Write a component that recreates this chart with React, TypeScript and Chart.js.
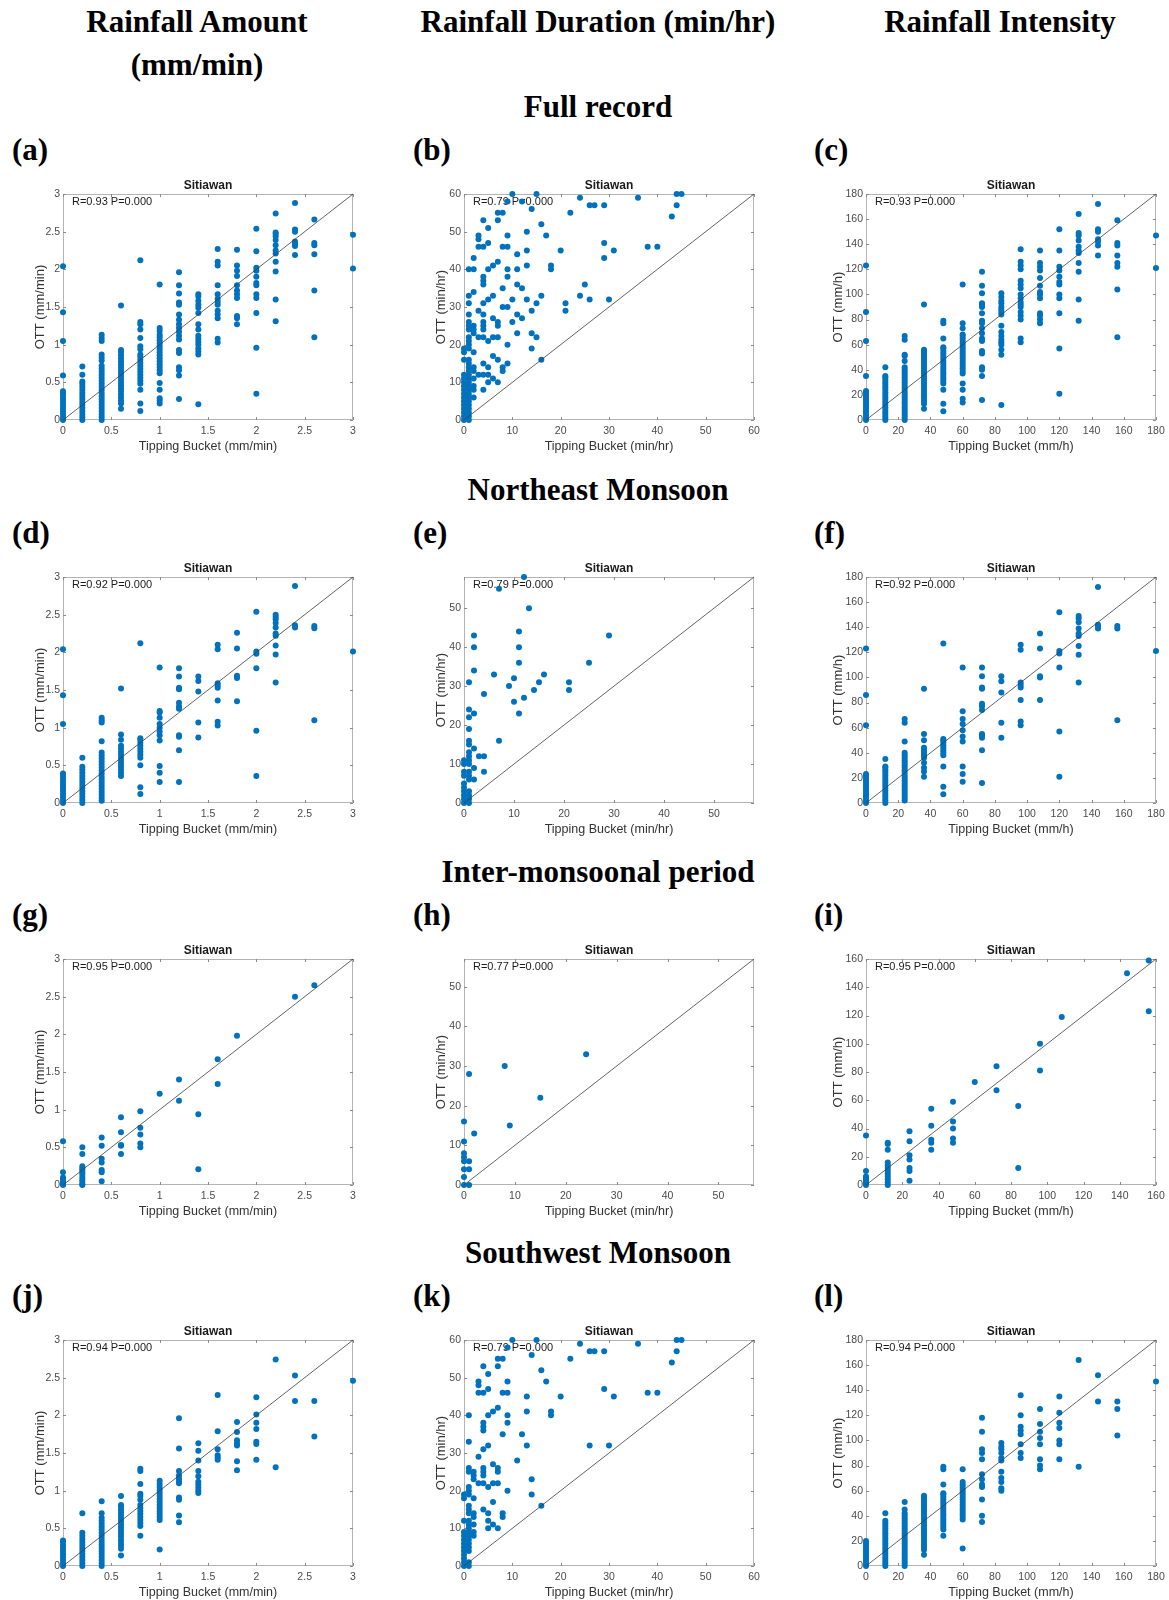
import React, { useEffect, useRef } from 'react';
import { Chart, registerables } from 'chart.js';

Chart.register(...registerables);

// Each column: [Tipping Bucket value, list of OTT values observed at it]
type Column = [number, number[]];

// ---------- Rainfall amount (mm/min) ----------
const amountFull: Column[] = [
  [0, [0, 0.04, 0.08, 0.12, 0.16, 0.2, 0.24, 0.28, 0.32, 0.36, 0.38, 0.59, 1.05, 1.43, 2.04]],
  [0.2, [0, 0.04, 0.08, 0.12, 0.16, 0.2, 0.24, 0.28, 0.32, 0.36, 0.4, 0.44, 0.48, 0.51, 0.6, 0.71]],
  [0.4, [0, 0.04, 0.08, 0.12, 0.16, 0.2, 0.24, 0.28, 0.32, 0.36, 0.4, 0.44, 0.48, 0.52, 0.56, 0.6, 0.64, 0.68, 0.72, 0.79, 0.83, 0.87, 1.05, 1.09, 1.13]],
  [0.6, [0.15, 0.22, 0.26, 0.3, 0.34, 0.38, 0.42, 0.46, 0.5, 0.54, 0.58, 0.62, 0.66, 0.7, 0.74, 0.78, 0.82, 0.86, 0.9, 0.93, 1.52]],
  [0.8, [0.12, 0.22, 0.4, 0.48, 0.52, 0.56, 0.6, 0.64, 0.68, 0.72, 0.76, 0.8, 0.84, 0.87, 0.94, 0.98, 1.09, 1.2, 1.27, 1.3, 2.12]],
  [1, [0.22, 0.26, 0.29, 0.4, 0.49, 0.62, 0.66, 0.7, 0.74, 0.78, 0.82, 0.86, 0.9, 0.94, 0.98, 1.02, 1.06, 1.1, 1.13, 1.18, 1.22, 1.8]],
  [1.2, [0.28, 0.59, 0.66, 0.7, 0.89, 0.93, 1.07, 1.12, 1.17, 1.22, 1.27, 1.33, 1.4, 1.53, 1.56, 1.68, 1.79, 1.96]],
  [1.4, [0.21, 0.87, 0.91, 0.95, 1, 1.04, 1.08, 1.12, 1.2, 1.27, 1.42, 1.49, 1.53, 1.58, 1.64, 1.67]],
  [1.6, [1.03, 1.08, 1.35, 1.4, 1.45, 1.53, 1.57, 1.61, 1.67, 1.79, 2.05, 2.1, 2.27]],
  [1.8, [1.27, 1.35, 1.38, 1.62, 1.67, 1.72, 1.79, 1.91, 1.98, 2.05, 2.26]],
  [2, [0.35, 0.96, 1.42, 1.62, 1.67, 1.79, 1.82, 1.9, 1.98, 2.02, 2.24, 2.54]],
  [2.2, [1.31, 1.6, 1.97, 2.1, 2.21, 2.25, 2.32, 2.39, 2.44, 2.47, 2.49, 2.74]],
  [2.4, [2.19, 2.31, 2.34, 2.37, 2.5, 2.53, 2.88]],
  [2.6, [1.1, 1.72, 2.2, 2.32, 2.35, 2.66]],
  [3, [2.01, 2.46]],
];

const amountNE: Column[] = [
  [0, [0, 0.04, 0.08, 0.12, 0.16, 0.2, 0.24, 0.28, 0.32, 0.36, 0.39, 1.05, 1.43, 2.04]],
  [0.2, [0, 0.04, 0.08, 0.12, 0.16, 0.2, 0.24, 0.28, 0.32, 0.36, 0.4, 0.44, 0.48, 0.6]],
  [0.4, [0.03, 0.07, 0.11, 0.15, 0.19, 0.23, 0.27, 0.31, 0.35, 0.39, 0.43, 0.47, 0.51, 0.55, 0.59, 0.63, 0.67, 0.82, 1.07, 1.1, 1.13]],
  [0.6, [0.36, 0.4, 0.44, 0.48, 0.52, 0.56, 0.6, 0.64, 0.68, 0.72, 0.76, 0.84, 0.91, 1.52]],
  [0.8, [0.12, 0.21, 0.5, 0.6, 0.64, 0.68, 0.72, 0.76, 0.8, 0.84, 0.86, 2.12]],
  [1, [0.28, 0.4, 0.49, 0.83, 0.9, 0.95, 1, 1.05, 1.13, 1.2, 1.22, 1.8]],
  [1.2, [0.28, 0.7, 0.88, 0.9, 1.25, 1.28, 1.33, 1.51, 1.53, 1.68, 1.79]],
  [1.4, [0.87, 1.07, 1.48, 1.62, 1.68]],
  [1.6, [1.03, 1.08, 1.36, 1.53, 1.56, 1.59, 2.04, 2.1]],
  [1.8, [1.35, 1.66, 1.69, 2.05, 2.26]],
  [2, [0.36, 0.96, 1.79, 1.98, 2.01, 2.54]],
  [2.2, [1.6, 1.97, 2.09, 2.22, 2.25, 2.33, 2.39, 2.44, 2.47, 2.5]],
  [2.4, [2.33, 2.36, 2.88]],
  [2.6, [1.1, 2.32, 2.35]],
  [3, [2.01]],
];

const amountInter: Column[] = [
  [0, [0, 0.01, 0.03, 0.05, 0.08, 0.1, 0.17, 0.58]],
  [0.2, [0, 0.01, 0.04, 0.07, 0.1, 0.14, 0.17, 0.2, 0.22, 0.25, 0.41, 0.5]],
  [0.4, [0.05, 0.17, 0.2, 0.3, 0.35, 0.52, 0.63]],
  [0.6, [0.41, 0.52, 0.53, 0.7, 0.9]],
  [0.8, [0.5, 0.55, 0.67, 0.76, 0.98]],
  [1, [1.21]],
  [1.2, [1.12, 1.4]],
  [1.4, [0.21, 0.94]],
  [1.6, [1.34, 1.67]],
  [1.8, [1.98]],
  [2.4, [2.5]],
  [2.6, [2.65]],
];

const amountSW: Column[] = [
  [0, [0, 0.04, 0.08, 0.12, 0.16, 0.2, 0.24, 0.28, 0.32, 0.34]],
  [0.2, [0, 0.04, 0.08, 0.12, 0.16, 0.2, 0.24, 0.28, 0.32, 0.36, 0.4, 0.44, 0.7]],
  [0.4, [0, 0.04, 0.08, 0.12, 0.16, 0.2, 0.24, 0.28, 0.32, 0.36, 0.4, 0.44, 0.48, 0.52, 0.56, 0.6, 0.64, 0.7, 0.86]],
  [0.6, [0.14, 0.23, 0.27, 0.31, 0.35, 0.39, 0.43, 0.47, 0.51, 0.55, 0.59, 0.63, 0.67, 0.71, 0.75, 0.79, 0.81, 0.93]],
  [0.8, [0.4, 0.53, 0.57, 0.61, 0.65, 0.69, 0.73, 0.77, 0.81, 0.88, 0.93, 0.96, 1.09, 1.26, 1.29]],
  [1, [0.22, 0.61, 0.65, 0.69, 0.73, 0.77, 0.81, 0.85, 0.89, 0.93, 0.97, 1.01, 1.05, 1.09, 1.13]],
  [1.2, [0.58, 0.67, 0.88, 0.91, 1.1, 1.13, 1.16, 1.2, 1.26, 1.56, 1.96]],
  [1.4, [0.97, 1, 1.04, 1.08, 1.12, 1.19, 1.26, 1.4, 1.53, 1.63]],
  [1.6, [1.41, 1.44, 1.47, 1.55, 1.79, 2.27]],
  [1.8, [1.27, 1.39, 1.6, 1.63, 1.67, 1.78, 1.91]],
  [2, [1.41, 1.62, 1.65, 1.82, 1.9, 2.01, 2.24]],
  [2.2, [1.31, 2.74]],
  [2.4, [2.19, 2.53]],
  [2.6, [1.72, 2.19]],
  [3, [2.46]],
];

// ---------- Rainfall duration (min/hr) ----------
const durationFull: Column[] = [
  [0, [0, 1, 2, 3, 4, 5, 6, 7, 8, 9, 10, 11, 12, 16, 18, 19]],
  [1, [0, 1, 2, 3, 4, 5, 6, 7, 8, 9, 10, 11, 12, 13, 14, 15, 16, 19, 20, 21, 22, 24, 25, 26, 28, 31, 33, 40]],
  [2, [6, 8, 9, 11, 13, 14, 18, 23, 24, 25, 34, 40, 43]],
  [3, [12, 22, 29, 46, 48, 49]],
  [4, [8, 12, 15, 22, 24, 25, 26, 28, 31, 36, 37, 38, 46, 53]],
  [5, [10, 12, 14, 21, 32, 40, 47, 51]],
  [6, [11, 17, 22, 27, 33, 41]],
  [7, [10, 16, 22, 25, 26, 42, 53, 55]],
  [8, [13, 14, 30, 35, 46, 55]],
  [9, [15, 20, 30, 38, 40, 46, 49, 58]],
  [10, [26, 32, 60]],
  [11, [23, 28, 36, 40, 44]],
  [12, [27, 35, 58]],
  [13, [32, 41, 45, 50]],
  [14, [19, 23, 29, 56]],
  [15, [22, 31, 60]],
  [16, [16, 33, 52]],
  [17, [49]],
  [18, [40, 41]],
  [20, [45]],
  [21, [29, 31]],
  [22, [55]],
  [24, [33, 59]],
  [25, [36]],
  [26, [32, 57]],
  [27, [57]],
  [29, [43, 47, 57]],
  [30, [32]],
  [31, [45]],
  [36, [59]],
  [38, [46]],
  [40, [46]],
  [43, [54]],
  [44, [57, 60]],
  [45, [60]],
];

const durationNE: Column[] = [
  [0, [0, 1, 2, 3, 4, 5, 7, 8, 10, 11]],
  [1, [0, 1, 2, 3, 6, 7, 8, 10, 11, 12, 13, 15, 16, 19, 22, 24, 31]],
  [2, [6, 9, 14, 23, 34, 40, 43]],
  [3, [12]],
  [4, [8, 12, 28]],
  [6, [33]],
  [7, [16, 55]],
  [9, [30]],
  [10, [26, 32]],
  [11, [23, 36, 40, 44]],
  [12, [27, 58]],
  [13, [50]],
  [14, [29]],
  [15, [31]],
  [16, [33]],
  [21, [29, 31]],
  [25, [36]],
  [29, [43]],
];

const durationInter: Column[] = [
  [0, [0, 2, 4, 6, 7, 8, 11, 16]],
  [1, [0, 4, 6, 28]],
  [2, [13]],
  [8, [30]],
  [9, [15]],
  [15, [22]],
  [24, [33]],
];

const durationSW: Column[] = [
  [0, [0, 1, 2, 3, 4, 5, 6, 7, 8, 9, 12, 18, 19]],
  [1, [0, 1, 4, 5, 6, 7, 8, 9, 10, 11, 12, 14, 15, 16, 19, 20, 21, 25, 26, 33, 40]],
  [2, [8, 9, 11, 13, 14, 18, 23, 24, 25]],
  [3, [22, 29, 46, 48, 49]],
  [4, [15, 22, 24, 25, 26, 31, 36, 37, 38, 46, 53]],
  [5, [10, 12, 14, 21, 32, 40, 47, 51]],
  [6, [11, 17, 22, 27, 41]],
  [7, [10, 22, 25, 26, 42, 53, 55]],
  [8, [13, 14, 35, 46, 55]],
  [9, [20, 38, 40, 46, 49, 58]],
  [10, [60]],
  [11, [28]],
  [12, [35]],
  [13, [32, 41, 45]],
  [14, [19, 23, 56]],
  [15, [60]],
  [16, [16, 52]],
  [17, [49]],
  [18, [40, 41]],
  [20, [45]],
  [22, [55]],
  [24, [59]],
  [26, [32, 57]],
  [27, [57]],
  [29, [47, 57]],
  [30, [32]],
  [31, [45]],
  [36, [59]],
  [38, [46]],
  [40, [46]],
  [43, [54]],
  [44, [57, 60]],
  [45, [60]],
];

// ---------- Rainfall intensity (mm/h) ----------
const intensityFull: Column[] = [
  [0, [0, 2, 4, 6, 8, 10, 12, 14, 16, 18, 20, 22, 23, 35, 63, 86, 123]],
  [12, [0, 2, 4, 6, 8, 10, 12, 14, 16, 18, 20, 22, 24, 26, 28, 30, 32, 34, 35, 42]],
  [24, [0, 2, 4, 6, 8, 10, 12, 14, 16, 18, 20, 22, 24, 26, 28, 30, 32, 34, 36, 38, 40, 42, 47, 51, 52, 64, 67]],
  [36, [9, 13, 15, 17, 19, 21, 23, 25, 27, 29, 31, 33, 35, 37, 39, 41, 43, 45, 47, 49, 51, 53, 55, 56, 92]],
  [48, [7, 13, 24, 29, 31, 33, 35, 37, 39, 41, 43, 45, 47, 49, 51, 53, 55, 57, 58, 65, 77, 79]],
  [60, [14, 17, 24, 29, 37, 39, 41, 43, 45, 47, 49, 51, 53, 55, 57, 59, 61, 63, 65, 67, 68, 73, 77, 108]],
  [72, [16, 35, 40, 42, 53, 55, 63, 65, 69, 73, 77, 79, 85, 90, 92, 93, 101, 107, 118]],
  [84, [12, 52, 56, 60, 62, 64, 67, 70, 75, 84, 86, 88, 90, 93, 95, 98, 101]],
  [96, [62, 65, 80, 83, 86, 90, 92, 94, 97, 100, 105, 108, 111, 120, 123, 126, 136]],
  [108, [77, 80, 83, 85, 97, 100, 102, 107, 113, 119, 122, 125, 135]],
  [120, [21, 57, 85, 97, 100, 108, 110, 114, 119, 122, 135, 152]],
  [132, [79, 96, 118, 125, 133, 135, 138, 143, 147, 149, 164]],
  [144, [131, 139, 142, 144, 150, 152, 172]],
  [156, [66, 104, 122, 125, 131, 139, 141, 159]],
  [180, [121, 147]],
];

const intensityNE: Column[] = [
  [0, [0, 2, 4, 6, 8, 10, 12, 14, 16, 18, 20, 22, 23, 62, 86, 123]],
  [12, [0, 2, 4, 6, 8, 10, 12, 14, 16, 18, 20, 22, 24, 26, 28, 29, 35]],
  [24, [2, 4, 6, 8, 10, 12, 14, 16, 18, 20, 22, 24, 26, 28, 30, 32, 34, 36, 38, 40, 49, 64, 67]],
  [36, [21, 25, 28, 32, 36, 38, 40, 42, 44, 50, 55, 91]],
  [48, [7, 13, 29, 38, 40, 42, 44, 46, 48, 50, 51, 127]],
  [60, [17, 23, 29, 49, 53, 58, 63, 67, 73, 108]],
  [72, [16, 42, 52, 54, 55, 74, 77, 79, 91, 92, 101, 108]],
  [84, [52, 64, 88, 97, 101]],
  [96, [62, 65, 82, 92, 94, 96, 122, 126]],
  [108, [82, 100, 101, 123, 135]],
  [120, [21, 57, 108, 119, 121, 152]],
  [132, [96, 118, 125, 133, 135, 139, 144, 147, 149]],
  [144, [139, 141, 142, 172]],
  [156, [66, 139, 141]],
  [180, [121]],
];

const intensityInter: Column[] = [
  [0, [0, 1, 2, 3, 4, 5, 6, 10, 35]],
  [12, [0, 2, 4, 6, 8, 10, 12, 14, 16, 25, 29, 30]],
  [24, [3, 10, 12, 18, 21, 31, 38]],
  [36, [25, 30, 32, 42, 54]],
  [48, [30, 33, 40, 45, 59]],
  [60, [73]],
  [72, [67, 84]],
  [84, [12, 56]],
  [96, [81, 100]],
  [108, [119]],
  [144, [150]],
  [156, [123, 159]],
];

const intensitySW: Column[] = [
  [0, [0, 2, 4, 6, 8, 10, 12, 14, 16, 18, 20]],
  [12, [0, 2, 4, 6, 8, 10, 12, 14, 16, 18, 20, 22, 24, 26, 28, 30, 32, 34, 36, 42]],
  [24, [0, 2, 4, 6, 8, 10, 12, 14, 16, 18, 20, 22, 24, 26, 28, 30, 32, 34, 36, 38, 40, 42, 45, 51]],
  [36, [9, 13, 15, 17, 19, 21, 23, 25, 27, 29, 31, 33, 35, 37, 39, 41, 43, 45, 47, 49, 51, 53, 55, 56]],
  [48, [24, 29, 31, 33, 35, 37, 39, 41, 43, 45, 47, 49, 51, 53, 55, 57, 58, 65, 77, 79]],
  [60, [14, 37, 39, 41, 43, 45, 47, 49, 51, 53, 55, 57, 59, 61, 63, 65, 67, 77]],
  [72, [35, 40, 53, 63, 65, 69, 73, 85, 90, 93, 107, 118]],
  [84, [60, 62, 67, 70, 75, 84, 86, 90, 93, 95, 98]],
  [96, [86, 90, 97, 105, 108, 111, 120, 136]],
  [108, [77, 80, 85, 97, 102, 107, 113, 125]],
  [120, [85, 97, 100, 110, 114, 122, 135]],
  [132, [79, 164]],
  [144, [131, 152]],
  [156, [104, 125, 131]],
  [180, [147]],
];

// ---------- Texts ----------
const columnTitles = ['Rainfall Amount', 'Rainfall Duration (min/hr)', 'Rainfall Intensity'];
const sectionTitles = ['Full record', 'Northeast Monsoon', 'Inter-monsoonal period', 'Southwest Monsoon'];
const panelLetters = ['a', 'b', 'c', 'd', 'e', 'f', 'g', 'h', 'i', 'j', 'k', 'l'];
const xAxisTitles = ['Tipping Bucket (mm/min)', 'Tipping Bucket (min/hr)', 'Tipping Bucket (mm/h)'];
const yAxisTitles = ['OTT (mm/min)', 'OTT (min/hr)', 'OTT (mm/h)'];
const correlations = ['0.93', '0.79', '0.93', '0.92', '0.79', '0.92', '0.95', '0.77', '0.95', '0.94', '0.79', '0.94'];
const stationName = 'Sitiawan';

// axis limits per panel (row-major) and tick step per column
const axisMax = [3, 60, 180, 3, 58, 180, 3, 57, 160, 3, 60, 180];
const tickStep = [0.5, 10, 20];

const panelData: Column[][] = [
  amountFull, durationFull, intensityFull,
  amountNE, durationNE, intensityNE,
  amountInter, durationInter, intensityInter,
  amountSW, durationSW, intensitySW,
];

// ---------- Layout ----------
const COL_LEFT = [63, 464, 866];
const ROW_TOP = [194, 577, 959, 1340];
const PLOT_W = 290;
const PLOT_H = 226;
const PAD_L = 60;
const PAD_T = 28;
const PAD_R = 14;
const PAD_B = 38;
const Y_TITLE_OFFSET = [23, 23, 28];

const SANS = '"Liberation Sans", Arial, Helvetica, sans-serif';
const SERIF = '"Liberation Serif", "Times New Roman", Times, serif';
const DOT = '#0072BD';

const toPoints = (cols: Column[]) => cols.flatMap(([x, ys]) => ys.map((y) => ({ x, y })));

// Draws the MATLAB-style box with inward ticks, plus the panel title and the R/P note
const framePlugin = {
  id: 'frame',
  beforeDatasetsDraw(chart: any, _args: any, opts: any) {
    const { ctx, chartArea, scales } = chart;
    const { left, top, right, bottom } = chartArea;
    const xs = scales.x;
    const ys = scales.y;
    ctx.save();
    ctx.strokeStyle = '#b4b4b4';
    ctx.lineWidth = 1;
    ctx.strokeRect(left + 0.5, top + 0.5, right - left - 1, bottom - top - 1);
    const tl = 3;
    ctx.strokeStyle = '#8a8a8a';
    ctx.beginPath();
    xs.ticks.forEach((t: any) => {
      const px = Math.round(xs.getPixelForValue(t.value)) + 0.5;
      ctx.moveTo(px, bottom);
      ctx.lineTo(px, bottom - tl);
      ctx.moveTo(px, top);
      ctx.lineTo(px, top + tl);
    });
    ys.ticks.forEach((t: any) => {
      const py = Math.round(ys.getPixelForValue(t.value)) + 0.5;
      ctx.moveTo(left, py);
      ctx.lineTo(left + tl, py);
      ctx.moveTo(right, py);
      ctx.lineTo(right - tl, py);
    });
    ctx.stroke();

    ctx.fillStyle = '#1a1a1a';
    ctx.font = `bold 12px ${SANS}`;
    ctx.textAlign = 'center';
    ctx.textBaseline = 'middle';
    ctx.fillText(opts.title, (left + right) / 2, top - 8);

    ctx.font = `11px ${SANS}`;
    ctx.textAlign = 'left';
    ctx.fillText(opts.note, left + 9, top + 8);
    ctx.restore();
  },
};

function ScatterPanel({ index }: { index: number }) {
  const ref = useRef<HTMLCanvasElement>(null);
  const row = Math.floor(index / 3);
  const col = index % 3;
  const width = PAD_L + PLOT_W + PAD_R;
  const height = PAD_T + PLOT_H + PAD_B;
  const left = COL_LEFT[col] - PAD_L;
  const top = ROW_TOP[row] - PAD_T;

  useEffect(() => {
    const max = axisMax[index];
    const step = tickStep[col];
    const tickFont = { family: SANS, size: 10.5 };
    const chart = new Chart(ref.current as HTMLCanvasElement, {
      type: 'scatter',
      data: {
        datasets: [
          {
            data: [{ x: 0, y: 0 }, { x: max, y: max }],
            showLine: true,
            borderColor: '#3c3c3c',
            borderWidth: 0.8,
            pointRadius: 0,
            pointHoverRadius: 0,
            clip: false,
          } as any,
          {
            data: toPoints(panelData[index]),
            backgroundColor: DOT,
            borderColor: DOT,
            borderWidth: 0,
            pointRadius: 3,
            pointHoverRadius: 3,
            clip: false,
          } as any,
        ],
      },
      options: {
        responsive: false,
        animation: false,
        events: [],
        layout: { padding: { top: PAD_T, right: PAD_R, left: 0, bottom: 0 } },
        plugins: {
          legend: { display: false },
          tooltip: { enabled: false },
          frame: { title: stationName, note: `R=${correlations[index]} P=0.000` },
        } as any,
        scales: {
          x: {
            type: 'linear',
            min: 0,
            max,
            grid: { display: false, drawTicks: false },
            border: { display: false },
            ticks: {
              stepSize: step,
              includeBounds: false,
              autoSkip: false,
              maxRotation: 0,
              padding: 5,
              color: '#4a4a4a',
              font: tickFont,
              callback: (v: any) => String(v),
            },
            title: {
              display: true,
              text: xAxisTitles[col],
              color: '#333',
              font: { family: SANS, size: 12.5 },
              padding: { top: 0, bottom: 3.5 },
            },
            afterFit: (s: any) => {
              s.height = PAD_B;
            },
          },
          y: {
            type: 'linear',
            min: 0,
            max,
            grid: { display: false, drawTicks: false },
            border: { display: false },
            ticks: {
              stepSize: step,
              includeBounds: false,
              autoSkip: false,
              padding: 3,
              color: '#4a4a4a',
              font: tickFont,
              callback: (v: any) => String(v),
            },
            title: {
              display: true,
              text: yAxisTitles[col],
              color: '#333',
              font: { family: SANS, size: 13 },
              padding: { top: PAD_L - Y_TITLE_OFFSET[col] - 7.8, bottom: 0 },
            },
            afterFit: (s: any) => {
              s.width = PAD_L;
            },
          },
        },
      } as any,
      plugins: [framePlugin as any],
    });
    return () => chart.destroy();
  }, [index]);

  return (
    <canvas
      ref={ref}
      width={width}
      height={height}
      style={{ position: 'absolute', left, top, width, height }}
    />
  );
}

// Bold serif heading positioned by its baseline (31px font, 31px line box => baseline 26px below top)
function Heading({ text, x, baseline, center }: { text: string; x: number; baseline: number; center?: boolean }) {
  return (
    <div
      style={{
        position: 'absolute',
        left: x,
        top: baseline - 26,
        transform: center ? 'translateX(-50%)' : undefined,
        whiteSpace: 'nowrap',
        fontFamily: SERIF,
        fontWeight: 'bold',
        fontSize: 31,
        lineHeight: '31px',
        color: '#000',
      }}
    >
      {text}
    </div>
  );
}

const COLUMN_CENTERS = [197, 598, 1000];
const LABEL_LEFT = [12, 413, 814];

export default function App() {
  return (
    <div
      style={{
        position: 'absolute',
        left: 0,
        top: 0,
        width: 1169,
        height: 1600,
        overflow: 'hidden',
        background: '#fff',
      }}
    >
      {columnTitles.map((t, i) => (
        <Heading key={t} text={t} x={COLUMN_CENTERS[i]} baseline={32} center />
      ))}
      <Heading text="(mm/min)" x={COLUMN_CENTERS[0]} baseline={75} center />
      {sectionTitles.map((t, r) => (
        <Heading key={t} text={t} x={598} baseline={ROW_TOP[r] - 77} center />
      ))}
      {panelLetters.map((l, i) => (
        <Heading
          key={l}
          text={`(${l})`}
          x={LABEL_LEFT[i % 3]}
          baseline={ROW_TOP[Math.floor(i / 3)] - 34}
        />
      ))}
      {panelLetters.map((l, i) => (
        <ScatterPanel key={`p-${l}`} index={i} />
      ))}
    </div>
  );
}
